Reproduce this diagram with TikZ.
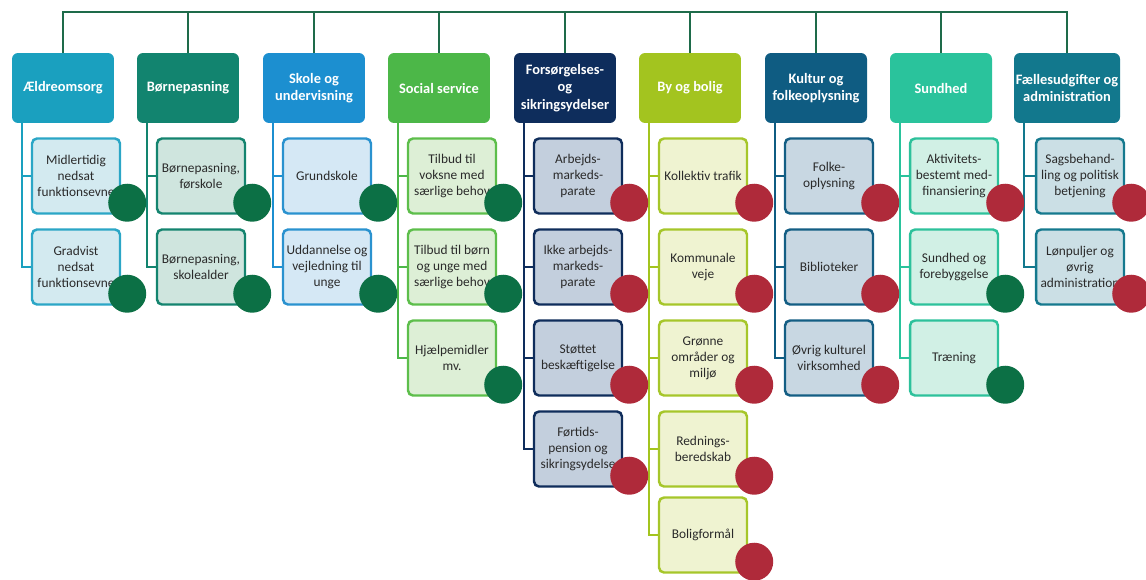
\documentclass[tikz,border=0pt]{standalone}
\usepackage{fontspec}
\setmainfont{Carlito}
\usepackage{tikz}

\definecolor{barC}{HTML}{1E6B4A}
\definecolor{dotG}{HTML}{0C7045}
\definecolor{dotR}{HTML}{AF2A3A}
\definecolor{txtC}{HTML}{2A2A2A}
\definecolor{aeldH}{HTML}{1AA0BF}\definecolor{aeldL}{HTML}{D3EAF0}\definecolor{aeldB}{HTML}{2BA6C6}
\definecolor{boernH}{HTML}{12846F}\definecolor{boernL}{HTML}{CFE5DE}\definecolor{boernB}{HTML}{14846F}
\definecolor{skoleH}{HTML}{1C8FD0}\definecolor{skoleL}{HTML}{D5E8F5}\definecolor{skoleB}{HTML}{2A92CF}
\definecolor{socH}{HTML}{4CB748}\definecolor{socL}{HTML}{DDEFD6}\definecolor{socB}{HTML}{5DBE4B}
\definecolor{forsH}{HTML}{0E2D5C}\definecolor{forsL}{HTML}{C3CFDD}\definecolor{forsB}{HTML}{0F2D5B}
\definecolor{byH}{HTML}{A3C41F}\definecolor{byL}{HTML}{EFF3D1}\definecolor{byB}{HTML}{A6C62A}
\definecolor{kultH}{HTML}{0F5C82}\definecolor{kultL}{HTML}{C8D7E2}\definecolor{kultB}{HTML}{145E84}
\definecolor{sundH}{HTML}{2AC39C}\definecolor{sundL}{HTML}{D1F0E5}\definecolor{sundB}{HTML}{2DC19B}
\definecolor{faelH}{HTML}{12788D}\definecolor{faelL}{HTML}{CBDFE5}\definecolor{faelB}{HTML}{15798E}

\tikzset{
  head/.style={rounded corners=0.12cm, minimum width=2.04cm, minimum height=1.4cm,
    text=white, font=\bfseries\fontsize{8.2}{10}\selectfont, align=center, inner sep=1pt, fill=#1},
  leaf/.style 2 args={rounded corners=0.1cm, line width=1.4pt, minimum width=1.76cm,
    minimum height=1.5cm, text=txtC, font=\fontsize{7.6}{9.2}\selectfont, align=center,
    inner sep=1pt, draw=#1, fill=#2},
  dot/.style={circle, minimum size=0.76cm, inner sep=0pt, fill=#1},
  link/.style={line width=1.1pt, draw=#1},
}

\begin{document}
\begin{tikzpicture}[x=0.02cm, y=-0.02cm]
  \useasboundingbox (0,0) rectangle (1146,579);

  % headers
  \node[head=aeldH]  (h1) at (63,88)   {Ældreomsorg};
  \node[head=boernH] (h2) at (188,88)  {Børnepasning};
  \node[head=skoleH] (h3) at (314,88)  {Skole og\\undervisning};
  \node[head=socH]   (h4) at (439,88)  {Social service};
  \node[head=forsH]  (h5) at (565,88)  {Forsørgelses-\\og\\sikringsydelser};
  \node[head=byH]    (h6) at (690,88)  {By og bolig};
  \node[head=kultH]  (h7) at (816,88)  {Kultur og\\folkeoplysning};
  \node[head=sundH]  (h8) at (941,88)  {Sundhed};
  \node[head=faelH]  (h9) at (1067,88) {Fællesudgifter og\\administration};

  % top bar
  \coordinate (bartop) at (0,12);
  \draw[link=barC] (h1.north) |- (bartop -| h9.north) -- (h9.north);
  \foreach \h in {h2,h3,h4,h5,h6,h7,h8}
    \draw[link=barC] (\h.north) -- (\h.north |- bartop);

  % Ældreomsorg
  \node[leaf={aeldB}{aeldL}] (h1a) at (76,176) {Midlertidig\\nedsat\\funktionsevne};
  \node[leaf={aeldB}{aeldL}] (h1b) at (76,267) {Gradvist\\nedsat\\funktionsevne};
  % Børnepasning
  \node[leaf={boernB}{boernL}] (h2a) at (201,176) {Børnepasning,\\førskole};
  \node[leaf={boernB}{boernL}] (h2b) at (201,267) {Børnepasning,\\skolealder};
  % Skole og undervisning
  \node[leaf={skoleB}{skoleL}] (h3a) at (327,176) {Grundskole};
  \node[leaf={skoleB}{skoleL}] (h3b) at (327,267) {Uddannelse og\\vejledning til\\unge};
  % Social service
  \node[leaf={socB}{socL}] (h4a) at (452,176) {Tilbud til\\voksne med\\særlige behov};
  \node[leaf={socB}{socL}] (h4b) at (452,267) {Tilbud til børn\\og unge med\\særlige behov};
  \node[leaf={socB}{socL}] (h4c) at (452,358) {Hjælpemidler\\mv.};
  % Forsørgelses- og sikringsydelser
  \node[leaf={forsB}{forsL}] (h5a) at (578,176) {Arbejds-\\markeds-\\parate};
  \node[leaf={forsB}{forsL}] (h5b) at (578,267) {Ikke arbejds-\\markeds-\\parate};
  \node[leaf={forsB}{forsL}] (h5c) at (578,358) {Støttet\\beskæftigelse};
  \node[leaf={forsB}{forsL}] (h5d) at (578,449) {Førtids-\\pension og\\sikringsydelse};
  % By og bolig
  \node[leaf={byB}{byL}] (h6a) at (703,176) {Kollektiv trafik};
  \node[leaf={byB}{byL}] (h6b) at (703,267) {Kommunale\\veje};
  \node[leaf={byB}{byL}] (h6c) at (703,358) {Grønne\\områder og\\miljø};
  \node[leaf={byB}{byL}] (h6d) at (703,449) {Rednings-\\beredskab};
  \node[leaf={byB}{byL}] (h6e) at (703,535) {Boligformål};
  % Kultur og folkeoplysning
  \node[leaf={kultB}{kultL}] (h7a) at (829,176) {Folke-\\oplysning};
  \node[leaf={kultB}{kultL}] (h7b) at (829,267) {Biblioteker};
  \node[leaf={kultB}{kultL}] (h7c) at (829,358) {Øvrig kulturel\\virksomhed};
  % Sundhed
  \node[leaf={sundB}{sundL}] (h8a) at (954,176) {Aktivitets-\\bestemt med-\\finansiering};
  \node[leaf={sundB}{sundL}] (h8b) at (954,267) {Sundhed og\\forebyggelse};
  \node[leaf={sundB}{sundL}] (h8c) at (954,358) {Træning};
  % Fællesudgifter og administration
  \node[leaf={faelB}{faelL}] (h9a) at (1080,176) {Sagsbehand-\\ling og politisk\\betjening};
  \node[leaf={faelB}{faelL}] (h9b) at (1080,267) {Lønpuljer og\\øvrig\\administration};

  % trunks
  \foreach \h/\c/\last/\kids in {h1/aeldH/b/{a}, h2/boernH/b/{a}, h3/skoleH/b/{a},
      h4/socH/c/{a,b}, h5/forsH/d/{a,b,c}, h6/byH/e/{a,b,c,d}, h7/kultH/c/{a,b},
      h8/sundH/c/{a,b}, h9/faelH/b/{a}} {
    \coordinate (t\h) at ([xshift=0.2cm]\h.south west);
    \draw[link=\c] (t\h) |- (\h\last.west);
    \foreach \k in \kids
      \draw[link=\c] (t\h |- \h\k.west) -- (\h\k.west);
  }

  % status dots
  \foreach \n/\c in {h1a/dotG, h1b/dotG, h2a/dotG, h2b/dotG, h3a/dotG, h3b/dotG,
      h4a/dotG, h4b/dotG, h4c/dotG, h5a/dotR, h5b/dotR, h5c/dotR, h5d/dotR,
      h6a/dotR, h6b/dotR, h6c/dotR, h6d/dotR, h6e/dotR, h7a/dotR, h7b/dotR, h7c/dotR,
      h8a/dotR, h8b/dotG, h8c/dotG, h9a/dotR, h9b/dotR}
    \node[dot=\c] (d\n) at ([shift={(6,-12)}]\n.south east) {};
\end{tikzpicture}
\end{document}
